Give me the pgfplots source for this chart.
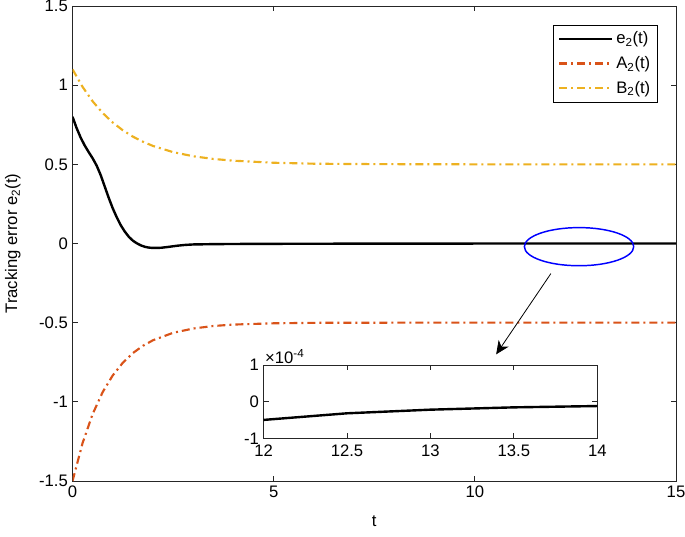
\documentclass[border=0pt]{standalone}
\usepackage{fontspec}
\setmainfont{Liberation Sans}
\usepackage{pgfplots}
\pgfplotsset{compat=1.18}
\usepackage{pgfplotstable}
\usetikzlibrary{arrows.meta}

\definecolor{morange}{rgb}{0.850,0.325,0.098}
\definecolor{myellow}{rgb}{0.929,0.694,0.125}
\definecolor{maxis}{rgb}{0.15,0.15,0.15}

% e2(t)
\pgfplotstableread{
t e
0.0 0.800
0.1 0.730
0.2 0.670
0.3 0.620
0.4 0.578
0.5 0.538
0.6 0.492
0.7 0.432
0.8 0.360
0.9 0.288
1.0 0.222
1.1 0.165
1.2 0.115
1.3 0.075
1.4 0.042
1.5 0.018
1.6 0.001
1.7 -0.012
1.8 -0.021
1.9 -0.026
2.0 -0.028
2.2 -0.027
2.4 -0.021
2.6 -0.014
2.8 -0.009
3.0 -0.006
3.5 -0.004
4.0 -0.003
5.0 -0.002
7.0 -0.001
10.0 -0.0003
15.0 0.0
}\etwo

% lower bound A2(t)
\pgfplotstableread{
t a
0.00 -1.500
0.25 -1.260
0.50 -1.077
0.75 -0.938
1.00 -0.833
1.25 -0.753
1.50 -0.692
1.75 -0.646
2.00 -0.611
2.50 -0.564
3.00 -0.537
3.50 -0.521
4.00 -0.512
5.00 -0.504
6.00 -0.501
8.00 -0.500
15.00 -0.500
}\atwo

% upper bound B2(t)
\pgfplotstableread{
t b
0.00 1.100
0.25 0.989
0.50 0.898
0.75 0.824
1.00 0.764
1.25 0.715
1.50 0.675
1.75 0.643
2.00 0.616
2.50 0.577
3.00 0.551
3.50 0.534
4.00 0.523
5.00 0.510
6.00 0.504
7.00 0.502
8.00 0.501
10.00 0.500
15.00 0.500
}\btwo

% zoomed part of e2(t)
\pgfplotstableread{
t e
12.0 -0.495e-4
12.5 -0.315e-4
13.0 -0.216e-4
13.5 -0.153e-4
14.0 -0.117e-4
}\ezoom

\pgfplotsset{
  mstyle/.style={
    scale only axis,
    tick align=inside,
    major tick length=4pt,
    axis line style={maxis, line width=0.6pt},
    every tick/.style={maxis, line width=0.6pt},
    tick label style={font=\fontsize{12.5}{14}\selectfont},
    label style={font=\fontsize{12.5}{14}\selectfont},
    /pgf/number format/assume math mode=true,
  },
  dd/.style={dash pattern=on 6pt off 3pt on 1.5pt off 3pt, line width=1.6pt},
}

\begin{document}
\begin{tikzpicture}
\begin{axis}[
  mstyle,
  name=main,
  width=452.6pt, height=356.25pt,
  xmin=0, xmax=15, ymin=-1.5, ymax=1.5,
  xtick={0,5,10,15},
  ytick={-1.5,-1,-0.5,0,0.5,1,1.5},
  yticklabels={-1.5,-1,-0.5,0,0.5,1,1.5},
  xlabel={t},
  ylabel={Tracking error e\textsubscript{2}(t)},
  xlabel style={yshift=-7pt},
  ylabel style={yshift=7pt},
  legend style={at={(rel axis cs:1,1)}, anchor=north east, xshift=-14pt, yshift=-14pt,
    draw=black, line width=0.6pt, font=\fontsize{12.5}{14}\selectfont,
    inner sep=3pt, row sep=4pt, cells={anchor=west}},
  legend image code/.code={\draw[#1] (0pt,0pt) -- (40pt,0pt);},
]
\addplot[black, line width=1.8pt] table[x=t, y=e] {\etwo};
\addlegendentry{e\textsubscript{2}(t)}
\addplot[morange, dd] table[x=t, y=a] {\atwo};
\addlegendentry{A\textsubscript{2}(t)}
\addplot[myellow, dd] table[x=t, y=b] {\btwo};
\addlegendentry{B\textsubscript{2}(t)}
\draw[blue, line width=1.1pt] (axis cs:12.59,-0.02) ellipse [x radius=41pt, y radius=14.3pt];
\draw[black, line width=0.6pt, -{Stealth[length=10pt, width=9pt, inset=3pt]}]
  (axis cs:11.89,-0.19) -- (axis cs:10.53,-0.70);
\coordinate (bl) at (rel axis cs:0,0);
\coordinate (tr) at (rel axis cs:1,1);
\end{axis}
\begin{axis}[
  mstyle,
  at={(143.25pt,31.9pt)}, anchor=south west,
  width=250.3pt, height=55.1pt,
  xmin=12, xmax=14, ymin=-1e-4, ymax=1e-4,
  xtick={12,12.5,13,13.5,14},
  xticklabels={12,12.5,13,13.5,14},
  xticklabel style={yshift=-1.5pt},
  ytick={-1e-4,0,1e-4},
  yticklabels={-1,0,1},
  scaled y ticks=false,
  axis background/.style={fill=white},
  clip=false,
]
\addplot[black, line width=1.8pt] table[x=t, y=e] {\ezoom};
\node[anchor=south west, inner sep=1pt, font=\fontsize{12.5}{14}\selectfont]
  at (rel axis cs:0,1) {×10\textsuperscript{-4}};
\end{axis}
\pgfresetboundingbox
\path ([xshift=-54.4pt, yshift=-41.25pt]bl) rectangle ([xshift=6.75pt, yshift=4.5pt]tr);
\end{tikzpicture}
\end{document}
